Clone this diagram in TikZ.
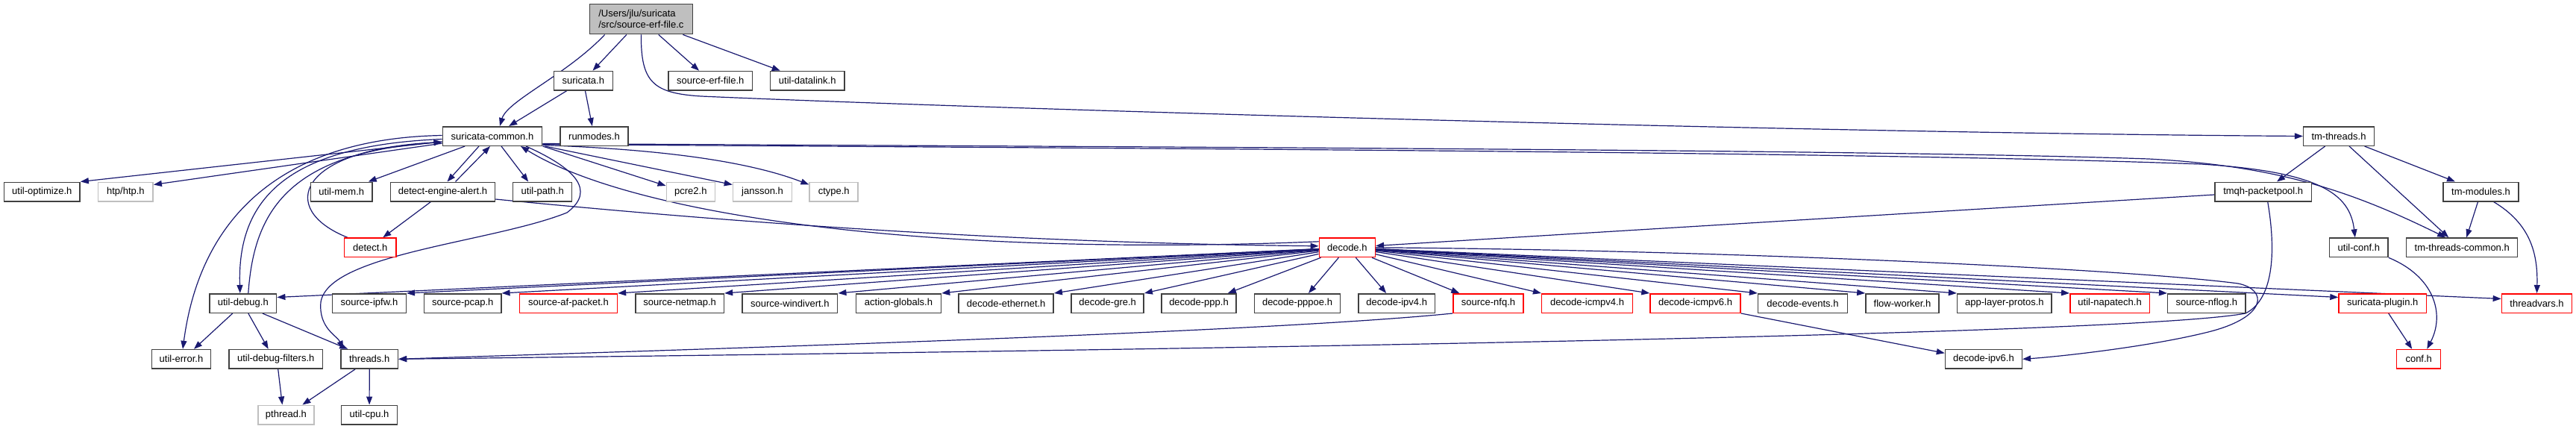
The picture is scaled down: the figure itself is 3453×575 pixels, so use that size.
\documentclass[tikz,border=0pt]{standalone}
\usepackage{fontspec}
\setmainfont{Liberation Sans}
\usetikzlibrary{arrows.meta,calc}
\definecolor{edgec}{HTML}{191970}
\definecolor{topfill}{HTML}{BFBFBF}
\pgfdeclarelayer{background}
\pgfsetlayers{background,main}
\tikzset{
 box/.style={draw=black!75, line width=1.5pt, fill=white, minimum height=25.5pt, inner sep=0pt, font=\fontsize{13}{15}\selectfont},
 rbox/.style={box, draw=red},
 gbox/.style={box, draw=black!25},
 e/.style={draw=edgec, line width=1.2pt, -{Triangle[length=11pt,width=8pt]}},
}
\begin{document}
\begin{tikzpicture}[x=1pt,y=-1pt]
\useasboundingbox (0,0) rectangle (3453,575);
% row 0
\node[box, fill=topfill, minimum width=138pt, minimum height=40pt, align=left] (top) at (859.4,25.7) {/Users/jlu/suricata\\/src/source-erf-file.c};
% row 1
\node[box, minimum width=79pt] (suri) at (781.8,108.2) {suricata.h};
\node[box, minimum width=112.7pt] (serfh) at (952.3,108.2) {source-erf-file.h};
\node[box, minimum width=99.7pt] (udl) at (1082.2,108.2) {util-datalink.h};
% row 2
\node[box, minimum width=133.4pt] (sc) at (660,182.5) {suricata-common.h};
\node[box, minimum width=91pt] (runm) at (796.5,182.5) {runmodes.h};
\node[box, minimum width=94.7pt] (tmth) at (3135,182.5) {tm-threads.h};
% row 3
\node[box, minimum width=101.7pt] (uopt) at (56.3,257) {util-optimize.h};
\node[gbox, minimum width=73.5pt] (htp) at (168.4,257) {htp/htp.h};
\node[box, minimum width=82.3pt] (umem) at (457.8,257) {util-mem.h};
\node[box, minimum width=140pt] (dea) at (593.5,257) {detect-engine-alert.h};
\node[box, minimum width=79pt] (upath) at (727.2,257) {util-path.h};
\node[gbox, minimum width=65pt] (pcre) at (925.8,257) {pcre2.h};
\node[gbox, minimum width=79pt] (jans) at (1022,257) {jansson.h};
\node[gbox, minimum width=65pt] (ctype) at (1117.7,257) {ctype.h};
\node[box, minimum width=129.3pt] (tmqh) at (3033.7,257) {tmqh-packetpool.h};
\node[box, minimum width=101pt] (tmmod) at (3325.5,257) {tm-modules.h};
% row 4
\node[rbox, minimum width=69.3pt] (detect) at (496.3,331.8) {detect.h};
\node[rbox, minimum width=75pt] (decode) at (1805.8,331.8) {decode.h};
\node[box, minimum width=78.3pt] (uconf) at (3161.8,331.8) {util-conf.h};
\node[box, minimum width=149pt] (ttc) at (3300.2,331.8) {tm-threads-common.h};
% row 5
\node[box, minimum width=89.7pt] (udebug) at (325.8,406.5) {util-debug.h};
\node[box, minimum width=98.6pt] (sipfw) at (495,406.5) {source-ipfw.h};
\node[box, minimum width=103.3pt] (spcap) at (620.2,406.5) {source-pcap.h};
\node[rbox, minimum width=131pt] (safp) at (761.9,406.5) {source-af-packet.h};
\node[box, minimum width=118.6pt] (snetmap) at (911.1,406.5) {source-netmap.h};
\node[box, minimum width=127.8pt] (swdiv) at (1058.8,406.5) {source-windivert.h};
\node[box, minimum width=114pt] (actg) at (1204.5,406.5) {action-globals.h};
\node[box, minimum width=127pt] (deth) at (1348.7,406.5) {decode-ethernet.h};
\node[box, minimum width=97.2pt] (dgre) at (1484.6,406.5) {decode-gre.h};
\node[box, minimum width=100.2pt] (dppp) at (1607,406.5) {decode-ppp.h};
\node[box, minimum width=114.8pt] (dpppoe) at (1739,406.5) {decode-pppoe.h};
\node[box, minimum width=102.6pt] (dipv4) at (1872.2,406.5) {decode-ipv4.h};
\node[rbox, minimum width=94pt] (snfq) at (1995,406.5) {source-nfq.h};
\node[rbox, minimum width=121.7pt] (dicmp4) at (2127.5,406.5) {decode-icmpv4.h};
\node[rbox, minimum width=121pt] (dicmp6) at (2272.5,406.5) {decode-icmpv6.h};
\node[box, minimum width=119.7pt] (devents) at (2416.5,406.5) {decode-events.h};
\node[box, minimum width=98.2pt] (flowk) at (2550,406.5) {flow-worker.h};
\node[box, minimum width=126.6pt] (alp) at (2686.9,406.5) {app-layer-protos.h};
\node[rbox, minimum width=106.6pt] (unapa) at (2828.1,406.5) {util-napatech.h};
\node[box, minimum width=104.3pt] (snflog) at (2957.8,406.5) {source-nflog.h};
\node[rbox, minimum width=117.3pt] (splug) at (3193.7,406.5) {suricata-plugin.h};
\node[rbox, minimum width=94.3pt] (tvars) at (3400.5,406.5) {threadvars.h};
% row 6
\node[box, minimum width=78.8pt] (uerr) at (243,481.3) {util-error.h};
\node[box, minimum width=125.5pt] (udf) at (369.7,481.3) {util-debug-filters.h};
\node[box, minimum width=76.5pt] (thr) at (495.2,481.3) {threads.h};
\node[box, minimum width=102.8pt] (dipv6) at (2658.9,481.3) {decode-ipv6.h};
\node[rbox, minimum width=59pt] (conf) at (3242.2,481.3) {conf.h};
% row 7
\node[gbox, minimum width=75pt] (pthr) at (383.4,556) {pthread.h};
\node[box, minimum width=75pt] (ucpu) at (495.1,556) {util-cpu.h};

\begin{pgfonlayer}{background}
% from source-erf-file.c
\draw[e] ($(top.south west)+(21,0)$) .. controls (760,100) and (680,135) .. ($(sc.north)+(10,0)$);
\draw[e] (top) -- (suri);
\draw[e] (top) -- (serfh);
\draw[e] (top) -- (udl);
\draw[e] (top.south) .. controls (859,110) and (875,125) .. (940,129) .. controls (1300,145) and (2400,178) .. (tmth.west);
% suricata.h
\draw[e] (suri) -- (sc);
\draw[e] (suri) -- (runm);
% suricata-common.h
\draw[e] (sc) -- (uopt.north east);
\draw[e] (sc) -- ($(htp.north east)+(0,4)$);
\draw[e] (sc) -- ($(umem.north east)+(-6,0)$);
\draw[e] ($(sc.south)+(-18,0)$) -- ($(dea.north)+(6,0)$);
\draw[e] ($(dea.north)+(17,0)$) -- ($(sc.south)+(-3,0)$);
\draw[e] ($(sc.south)+(12,0)$) -- ($(upath.north)+(-19,0)$);
\draw[e] (sc.south east) -- ($(pcre.west)+(0,-8)$);
\draw[e] ($(sc.south east)+(3,0)$) -- ($(jans.north west)+(0,4)$);
\draw[e] ($(sc.east)+(0,12)$) .. controls (880,200) and (1000,215) .. ($(ctype.north west)+(0,4)$);
\draw[e] ($(sc.west)+(0,-1)$) .. controls (390,185) and (270,280) .. ($(uerr.north)+(2,0)$);
\draw[e] ($(sc.west)+(0,4)$) .. controls (380,195) and (318,270) .. ($(udebug.north)+(-4,0)$);
\draw[e] ($(udebug.north)+(7,0)$) .. controls (340,290) and (380,205) .. ($(sc.west)+(0,8)$);
\draw[e] ($(detect.north west)+(5,0)$) .. controls (370,280) and (400,200) .. ($(sc.west)+(0,8)$);
\draw[e] ($(sc.south)+(45,0)$) .. controls (770,225) and (800,255) .. (760,285) .. controls (660,325) and (440,340) .. (430,405) .. controls (427,440) and (452,450) .. ($(thr.north west)+(4,0)$);
\draw[e] ($(sc.east)+(0,11)$) .. controls (1500,199) and (2500,203) .. (2950,220) .. controls (3110,230) and (3150,260) .. ($(uconf.north)+(-5,0)$);
\draw[e] ($(sc.east)+(0,10)$) .. controls (1500,197) and (2500,200) .. (2880,213) .. controls (3050,222) and (3150,255) .. ($(ttc.north)+(-22,0)$);
% detect-engine-alert.h
\draw[e] ($(dea.south)+(-16,0)$) -- ($(detect.north)+(17,0)$);
\draw[e] ($(dea.east)+(0,10)$) .. controls (900,290) and (1300,325) .. ($(decode.west)+(0,-2)$);
% decode.h
\draw[e] ($(decode.west)+(0,-8)$) .. controls (1250,345) and (850,290) .. ($(sc.south)+(38,0)$);
\draw[e] (decode) -- ($(udebug.east)+(0,-8)$);
\foreach \t in {sipfw,spcap,safp,snetmap,swdiv,actg,deth,dgre}
  \draw[e] (decode) -- (\t.north east);
\draw[e] (decode) -- ($(dppp.north east)+(-12,0)$);
\draw[e] (decode) -- ($(dpppoe.north)+(15,0)$);
\draw[e] (decode) -- ($(dipv4.north)+(-14,0)$);
\draw[e] (decode) -- ($(snfq.north west)+(9,0)$);
\foreach \t in {dicmp4,dicmp6,devents,flowk,alp,unapa,snflog}
  \draw[e] (decode) -- (\t.north west);
\draw[e] (decode) -- ($(splug.west)+(0,-8)$);
\draw[e] (decode) -- ($(tvars.west)+(0,-6)$);
\draw[e] (decode.east) .. controls (2300,335) and (2850,360) .. (3000,380) .. controls (3040,388) and (3040,425) .. (2960,445) .. controls (2880,465) and (2760,478) .. (dipv6.east);
% tm-threads.h and friends
\draw[e] (tmth) -- (tmqh);
\draw[e] (tmth) -- (tmmod);
\draw[e] ($(tmth.south)+(14,0)$) -- ($(ttc.north)+(-18,0)$);
\draw[e] ($(tmmod.south)+(-4,0)$) -- ($(ttc.north)+(6,0)$);
\draw[e] ($(tmmod.south)+(17,0)$) .. controls (3392,300) and (3402,340) .. (tvars.north);
\draw[e] (tmqh) -- (decode);
\draw[e] ($(tmqh.south)+(6,0)$) .. controls (3050,330) and (3050,400) .. (3010,420) .. controls (2850,450) and (1500,470) .. (thr.east);
\draw[e] (snfq.south west) .. controls (1700,445) and (1000,466) .. (thr.east);
\draw[e] (dicmp6.south east) -- ($(dipv6.west)+(0,-8)$);
\draw[e] (uconf.south east) .. controls (3262,370) and (3278,420) .. ($(conf.north)+(11,0)$);
\draw[e] ($(splug.south)+(8,0)$) -- ($(conf.north)+(-9,0)$);
% util-debug.h, threads.h
\draw[e] ($(udebug.south)+(-14,0)$) -- ($(uerr.north)+(17,0)$);
\draw[e] ($(udebug.south)+(7,0)$) -- ($(udf.north)+(-10,0)$);
\draw[e] ($(udebug.south)+(26,0)$) -- ($(thr.north west)+(10,0)$);
\draw[e] ($(udf.south)+(3,0)$) -- ($(pthr.north)+(-5,0)$);
\draw[e] ($(thr.south)+(-19,0)$) -- ($(pthr.north)+(22,0)$);
\draw[e] (thr) -- (ucpu);
\end{pgfonlayer}
\end{tikzpicture}
\end{document}
